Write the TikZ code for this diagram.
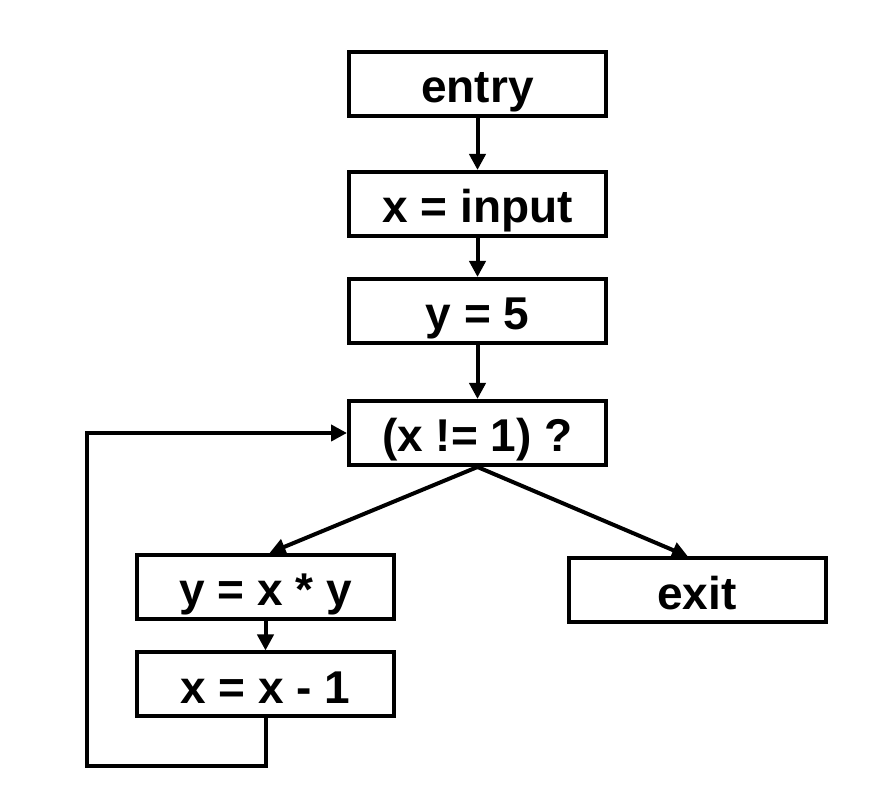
\documentclass[tikz,border=0pt]{standalone}
\usepackage{fontspec}
\setmainfont{Liberation Sans}
\usetikzlibrary{arrows.meta}

\tikzset{
	block/.style={draw, line width=2pt, minimum width=128.5pt, minimum height=32pt,
		font=\fontsize{23}{27}\selectfont\bfseries, inner sep=0pt,
		text height=19pt, text depth=0pt},
	flow/.style={line width=2pt, -{Triangle[length=8pt,width=8pt]}}
}

\begin{document}
\begin{tikzpicture}[x=0.5pt,y=0.5pt]
		\useasboundingbox (0,0) rectangle (883,803);
		
		% straight part
		\node[block] (entry) at (477.5,719) {entry};
		\node[block] (input) at (477.5,599) {x = input};
		\node[block] (ysetf) at (477.5,492) {y = 5};
		\node[block] (cond)  at (477.5,370) {(x != 1) ?};
		
		% loop body and exit
		\node[block] (mult) at (265.5,216) {y = x * y};
		\node[block] (decr) at (265.5,118.5) {x = x - 1};
		\node[block] (exit) at (697,212.5) {exit};
		
		\coordinate (loopbl) at (87,37);
		
		\draw[flow] (entry) -- (input);
		\draw[flow] (input) -- (ysetf);
		\draw[flow] (ysetf) -- (cond);
		\draw[flow] (cond.south) -- ([xshift=2pt]mult.north);
		\draw[flow] (cond.south) -- ([xshift=-4.5pt]exit.north);
		\draw[flow] (mult) -- (decr);
		\draw[flow] (decr.south) |- (loopbl) |- (cond.west);
	\end{tikzpicture}
\end{document}
